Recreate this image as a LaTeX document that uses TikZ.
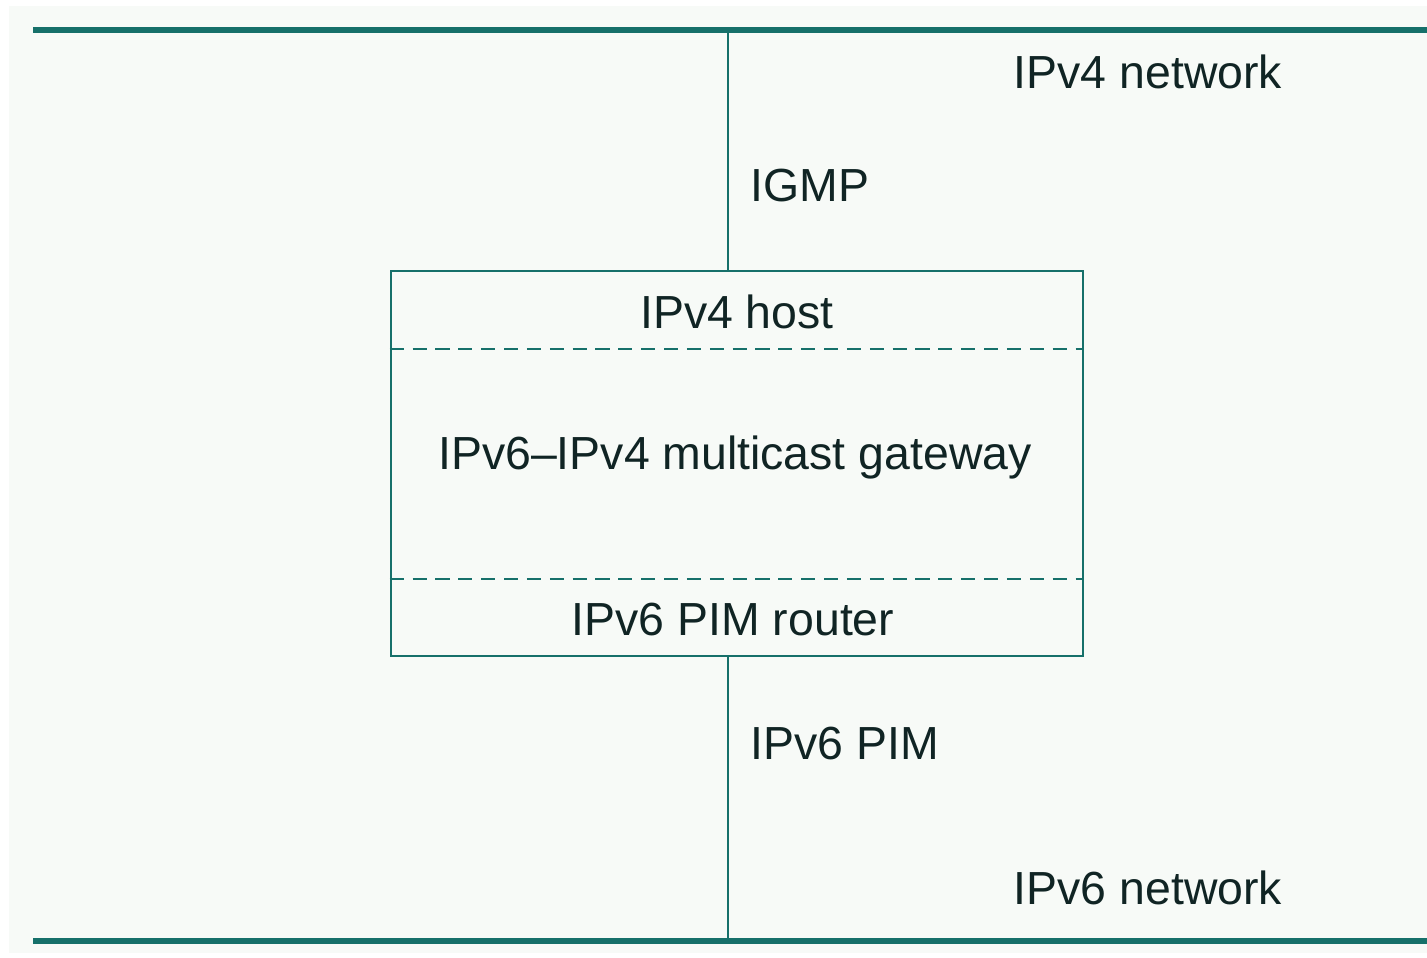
\documentclass[tikz,border=0pt]{standalone}
\usepackage{fontspec}
\setmainfont{Liberation Sans}
\definecolor{netline}{RGB}{22,112,106}
\definecolor{labeltext}{RGB}{16,36,36}
\definecolor{paper}{RGB}{247,250,247}
\tikzset{
  net/.style={line width=1.5pt, draw=netline},
  link/.style={line width=0.6pt, draw=netline},
  label/.style={text=labeltext, font=\fontsize{13.2}{16}\selectfont, inner sep=0pt},
}

\begin{document}
\begin{tikzpicture}[x=0.01cm, y=-0.01cm]
    \useasboundingbox (0,0) rectangle (1427,957);
    \fill[paper] (9,6) rectangle (1427,953);

    % networks
    \coordinate (v4l) at (33,30);
    \coordinate (v4r) at (1427,30);
    \coordinate (v6l) at (33,941);
    \coordinate (v6r) at (1427,941);
    \draw[net] (v4l) -- (v4r);
    \draw[net] (v6l) -- (v6r);

    % gateway box
    \node[link, rectangle, minimum width=6.92cm, minimum height=3.85cm, inner sep=0pt] (gw) at (737,463.5) {};
    \draw[link, dashed, dash pattern=on 4pt off 2.5pt] (gw.west |- 0,349) -- (gw.east |- 0,349);
    \draw[link, dashed, dash pattern=on 4pt off 2.5pt] (gw.west |- 0,579) -- (gw.east |- 0,579);

    \coordinate (up) at (728,30);
    \coordinate (down) at (728,941);
    \draw[link] (up) -- (up |- gw.north);
    \draw[link] (down |- gw.south) -- (down);

    \node[label] (v4net) at (1148,72) {IPv4 network};
    \node[label] (v6net) at (1148,888) {IPv6 network};
    \node[label, anchor=west] (igmp) at (750,186) {IGMP};
    \node[label, anchor=west] (pim) at (750,744) {IPv6 PIM};
    \node[label] (host) at (737,312) {IPv4 host};
    \node[label] (mcast) at (735,457) {IPv6--IPv4 multicast gateway};
    \node[label] (router) at (733,620) {IPv6 PIM router};
\end{tikzpicture}
\end{document}
